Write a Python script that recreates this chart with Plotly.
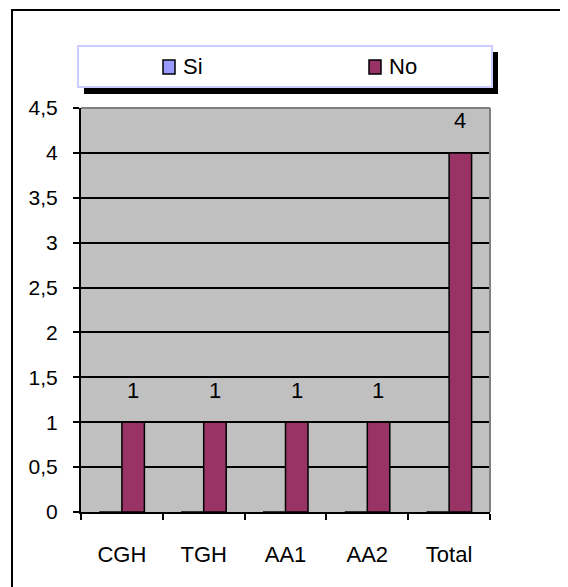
import plotly.graph_objects as go

categories = ["CGH", "TGH", "AA1", "AA2", "Total"]
si_values = [0, 0, 0, 0, 0]
no_values = [1, 1, 1, 1, 4]
series_names = ["Si", "No"]
y_ticks = [0, 0.5, 1, 1.5, 2, 2.5, 3, 3.5, 4, 4.5]
y_tick_labels = ["0", "0,5", "1", "1,5", "2", "2,5", "3", "3,5", "4", "4,5"]

OFF = 8  # page body margin
W, H = 568 - OFF, 587 - OFF
L, R, T, B = 81, 490, 108, 512  # plot area in page pixels
FONT = "Liberation Sans, Arial, sans-serif"
SI_COLOR = "#9999FF"
NO_COLOR = "#993366"


def px(x):
    return (x - L) / (R - L)


def py(y):
    return (B - y) / (B - T)


fig = go.Figure()
fig.add_trace(go.Bar(x=categories, y=si_values, name=series_names[0],
                     marker=dict(color=SI_COLOR, line=dict(color="black", width=1)),
                     showlegend=False))
fig.add_trace(go.Bar(x=categories, y=no_values, name=series_names[1],
                     marker=dict(color=NO_COLOR, line=dict(color="black", width=1.5)),
                     showlegend=False))

# value labels above the "No" bars
for c, v in zip(categories, no_values):
    fig.add_annotation(x=c, y=v, text=str(v), showarrow=False, xshift=11, yshift=32,
                       font=dict(family=FONT, size=22, color="black"),
                       xanchor="center", yanchor="middle")

shapes = []
# outer frame
shapes.append(dict(type="rect", xref="paper", yref="paper",
                   x0=px(12), x1=px(566), y0=py(620), y1=py(10),
                   line=dict(color="black", width=2), fillcolor="rgba(0,0,0,0)", layer="below"))
# plot frame top/right gray
shapes.append(dict(type="line", xref="paper", yref="paper", x0=0, x1=1, y0=1, y1=1,
                   line=dict(color="#808080", width=2)))
shapes.append(dict(type="line", xref="paper", yref="paper", x0=1, x1=1, y0=0, y1=1,
                   line=dict(color="#808080", width=2)))
# legend shadow and box
shapes.append(dict(type="rect", xref="paper", yref="paper",
                   x0=px(84), x1=px(498), y0=py(94), y1=py(52),
                   line=dict(width=0), fillcolor="black"))
shapes.append(dict(type="rect", xref="paper", yref="paper",
                   x0=px(78), x1=px(492), y0=py(87), y1=py(46),
                   line=dict(color="#CCCCFF", width=2), fillcolor="white"))
# legend symbols
for cx, col in [(169, SI_COLOR), (375, NO_COLOR)]:
    shapes.append(dict(type="rect", xref="paper", yref="paper",
                       x0=px(cx - 6), x1=px(cx + 6), y0=py(74), y1=py(60),
                       line=dict(color="black", width=1.5), fillcolor=col))
for tx, name in [(181, series_names[0]), (387, series_names[1])]:
    fig.add_annotation(xref="paper", yref="paper", x=px(tx), y=py(67), text=name,
                       showarrow=False, xanchor="left", yanchor="middle",
                       font=dict(family=FONT, size=22, color="black"))

fig.update_layout(
    width=W, height=H,
    margin=dict(l=L - OFF, r=W - (R - OFF), t=T - OFF, b=H - (B - OFF), pad=0),
    paper_bgcolor="white", plot_bgcolor="#C0C0C0",
    barmode="group", bargap=0.45, bargroupgap=0,
    shapes=shapes, showlegend=False,
    font=dict(family=FONT, size=21, color="black"),
)
fig.update_xaxes(type="category", showgrid=False, showline=True, linecolor="black", linewidth=2,
                 ticks="outside", tickson="boundaries", ticklen=6, tickwidth=2, tickcolor="black",
                 ticklabelstandoff=22, tickfont=dict(family=FONT, size=22), zeroline=False)
fig.update_yaxes(range=[0, 4.5], tickvals=y_ticks, ticktext=y_tick_labels,
                 showgrid=True, gridcolor="black", gridwidth=2,
                 showline=True, linecolor="black", linewidth=2,
                 ticks="outside", ticklen=6, tickwidth=2, tickcolor="black",
                 ticklabelstandoff=11, tickfont=dict(family=FONT, size=21), zeroline=False)

fig.write_html("out.html")
